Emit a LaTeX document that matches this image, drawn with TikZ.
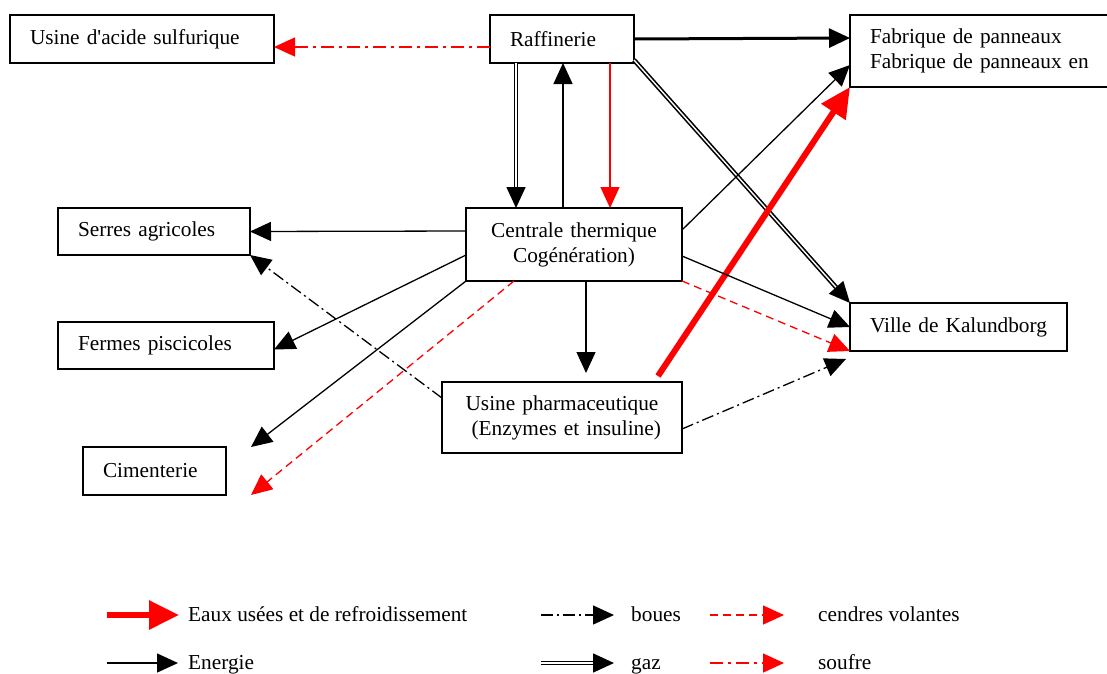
\documentclass[tikz,border=0pt]{standalone}
\usepackage{fontspec}
\setmainfont{Liberation Serif}
\usetikzlibrary{arrows.meta,calc}

\begin{document}
\begin{tikzpicture}[x=1pt,y=-1pt,
  box/.style={draw, line width=1.3pt, anchor=north west, inner ysep=0pt,
    inner xsep=20pt, outer sep=0pt, align=left,
    font=\fontsize{21.3}{25}\selectfont},
  cbox/.style={box, align=center},
  legendtext/.style={anchor=base west, inner sep=0pt,
    font=\fontsize{21.3}{25}\selectfont},
  head/.style={-{Triangle[length=21pt,width=19pt]}},
  energieflow/.style={line width=1.3pt, head},
  gazflow/.style={double, double distance=1.4pt, line width=1.6pt, head},
  bouesflow/.style={line width=1.3pt, dash pattern=on 12pt off 4pt on 2pt off 4pt, head},
  cendresflow/.style={red, line width=1.3pt, dash pattern=on 8pt off 5pt, head},
  soufreflow/.style={red, line width=1.3pt, dash pattern=on 13pt off 5pt on 3pt off 5pt, head},
  eauxflow/.style={red, line width=6pt, -{Triangle[length=30pt,width=28pt]}}
]
\useasboundingbox (0,0) rectangle (1107,673);
\clip (0,0) rectangle (1107,673);

% plants and consumers
\node[box, minimum width=264pt, minimum height=48pt, text width=224pt] (acid) at (10,15) {Usine d\textquotesingle acide sulfurique};
\node[box, minimum width=144pt, minimum height=48pt, text width=104pt] (raff) at (490,15) {Raffinerie};
\node[box, minimum width=270pt, minimum height=72pt, text width=230pt] (fab) at (850,15) {Fabrique de panneaux\\Fabrique de panneaux en};
\node[box, minimum width=192pt, minimum height=47pt, text width=152pt] (serr) at (58,208) {Serres agricoles};
\node[cbox, minimum width=216pt, minimum height=73pt, text width=176pt] (cent) at (466,208) {Centrale thermique\\Cogénération)};
\node[box, minimum width=216pt, minimum height=47pt, text width=176pt] (ferm) at (58,322) {Fermes piscicoles};
\node[box, minimum width=217pt, minimum height=48pt, text width=177pt] (ville) at (850,303) {Ville de Kalundborg};
\node[cbox, minimum width=240pt, minimum height=71pt, text width=200pt] (pharm) at (442,382) {Usine pharmaceutique\\\hspace*{0.4em}(Enzymes et insuline)};
\node[box, minimum width=143pt, minimum height=48pt, text width=103pt] (cim) at (83,447) {Cimenterie};

% flows
\draw[soufreflow] ($(raff.south west)+(0,-16)$) -- ($(acid.south east)+(0,-16)$);
\draw[energieflow, line width=3pt] (raff.east) -- ($(fab.north west)+(0,23)$);
\draw[gazflow] ($(raff.south west)+(26,0)$) -- ($(cent.north west)+(50,0)$);
\draw[energieflow] ($(cent.north west)+(97,0)$) -- ($(raff.south west)+(73,0)$);
\draw[energieflow, red] ($(raff.south west)+(120,0)$) -- ($(cent.north west)+(144,0)$);
\draw[gazflow] ($(raff.south east)+(0,-3)$) -- (ville.north west);
\draw[energieflow] ($(cent.north east)+(0,22)$) -- ($(fab.north west)+(0,50)$);
\draw[eauxflow] ($(pharm.north east)+(-24,-6)$) -- (fab.south west);
\draw[energieflow] ($(cent.north east)+(0,48)$) -- (ville.west);
\draw[cendresflow] (cent.south east) -- (ville.south west);
\draw[bouesflow] ($(pharm.south east)+(0,-24)$) -- ($(ville.south west)+(-4,8)$);
\draw[energieflow] ($(cent.north west)+(0,23)$) -- (serr.east);
\draw[bouesflow] ($(pharm.north west)+(0,16)$) -- (serr.south east);
\draw[energieflow] ($(cent.north west)+(0,47)$) -- ($(ferm.east)+(0,4)$);
\draw[energieflow] (cent.south west) -- ($(cim.north east)+(25,0)$);
\draw[cendresflow] ($(cent.south west)+(48,0)$) -- ($(cim.south east)+(25,0)$);
\draw[energieflow] ($(cent.south west)+(120,0)$) -- ($(pharm.north west)+(144,-9)$);

% legend
\coordinate (eauxA) at (107,615);  \coordinate (eauxB) at (179,615);
\coordinate (bouesA) at (541,615); \coordinate (bouesB) at (614,615);
\coordinate (cendA) at (710,615);  \coordinate (cendB) at (784,615);
\coordinate (enA) at (107,663);    \coordinate (enB) at (178,663);
\coordinate (gazA) at (541,663);   \coordinate (gazB) at (614,663);
\coordinate (soufA) at (710,663);  \coordinate (soufB) at (784,663);
\draw[eauxflow] (eauxA) -- (eauxB);
\draw[bouesflow] (bouesA) -- (bouesB);
\draw[cendresflow] (cendA) -- (cendB);
\draw[energieflow] (enA) -- (enB);
\draw[gazflow] (gazA) -- (gazB);
\draw[soufreflow] (soufA) -- (soufB);
\node[legendtext] (eauxT) at (188,621) {Eaux usées et de refroidissement};
\node[legendtext] (bouesT) at (631,621) {boues};
\node[legendtext] (cendT) at (818,621) {cendres volantes};
\node[legendtext] (enT) at (188,669) {Energie};
\node[legendtext] (gazT) at (631,669) {gaz};
\node[legendtext] (soufT) at (818,669) {soufre};
\end{tikzpicture}
\end{document}
